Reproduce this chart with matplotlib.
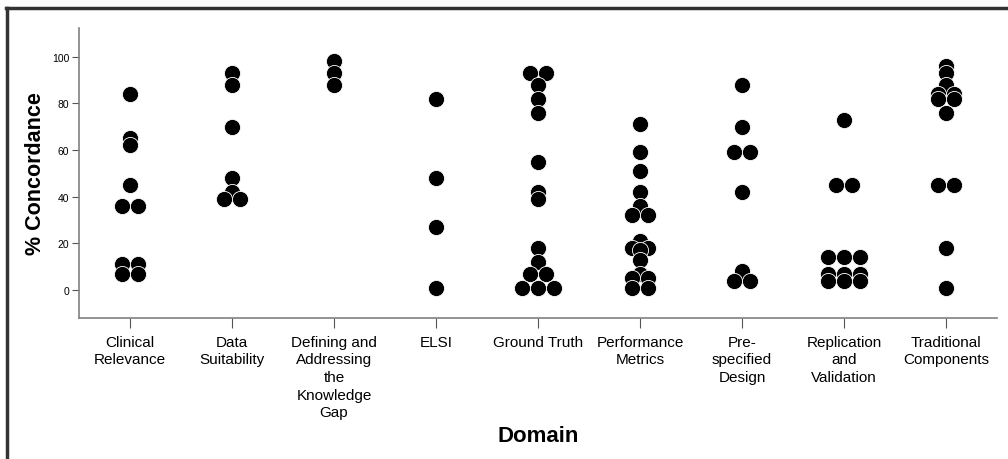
import numpy as np
from matplotlib import pyplot as plt
from matplotlib.lines import Line2D

plt.rcParams['font.family'] = ['Liberation Sans', 'DejaVu Sans']

# domains on the x axis
domains = ["Clinical\nRelevance", "Data\nSuitability", "Defining and\nAddressing\nthe\nKnowledge\nGap",
           "ELSI", "Ground Truth", "Performance\nMetrics", "Pre-\nspecified\nDesign",
           "Replication\nand\nValidation", "Traditional\nComponents"]

# % concordance per item
clinical = [84, 65, 62, 45, 36, 36, 11, 11, 7, 7]
data_suit = [93, 88, 70, 48, 42, 39, 39]
defining = [98, 93, 88]
elsi = [82, 48, 27, 1]
ground_truth = [93, 93, 88, 82, 76, 55, 42, 39, 18, 12, 7, 7, 1, 1, 1]
performance = [71, 59, 51, 42, 36, 32, 32, 21, 18, 18, 17, 13, 7, 5, 5, 1, 1]
prespecified = [88, 70, 59, 59, 42, 8, 4, 4]
replication = [73, 45, 45, 14, 14, 14, 7, 7, 7, 4, 4, 4]
traditional = [96, 93, 88, 84, 84, 82, 82, 76, 45, 45, 18, 1]

groups = [clinical, data_suit, defining, elsi, ground_truth, performance,
          prespecified, replication, traditional]

step = 0.155  # horizontal spacing of tied dots

fig = plt.figure(figsize=(10.08, 4.6), dpi=100)
ax = fig.add_axes([0.0784, 0.3065, 0.9106, 0.6305])

for i, vals in enumerate(groups):
    vals = np.array(vals)
    xs = np.zeros(len(vals), dtype=float)
    for v in np.unique(vals):
        idx = np.where(vals == v)[0]
        n = len(idx)
        xs[idx] = i + (np.arange(n) - (n - 1) / 2) * step
    ax.scatter(xs, vals, s=135, c='black', edgecolors='white', linewidths=0.6, zorder=3)

ax.set_xlim(-0.5, 8.5)
ax.set_ylim(-12, 112.3)
ax.set_yticks(range(0, 101, 20))
ax.set_xticks(range(len(domains)))
ax.set_xticklabels(domains, fontsize=11, linespacing=1.33)
ax.tick_params(axis='y', labelsize=7.5, length=5, color='#555555', pad=2)
ax.tick_params(axis='x', length=7, color='#555555', pad=5)

for side in ['top', 'right']:
    ax.spines[side].set_visible(False)
for side in ['left', 'bottom']:
    ax.spines[side].set_color('#808080')
    ax.spines[side].set_linewidth(1.2)

ax.set_ylabel('% Concordance', fontsize=15.5, fontweight='bold', labelpad=4)
ax.set_xlabel('Domain', fontsize=16, fontweight='bold', labelpad=4)

# frame lines at top and left of the figure
fig.add_artist(Line2D([0.006, 1.0], [0.98, 0.98], color='#333333', linewidth=2.5))
fig.add_artist(Line2D([0.007, 0.007], [0.0, 0.98], color='#333333', linewidth=2.5))

plt.savefig('out.png', dpi=100)
